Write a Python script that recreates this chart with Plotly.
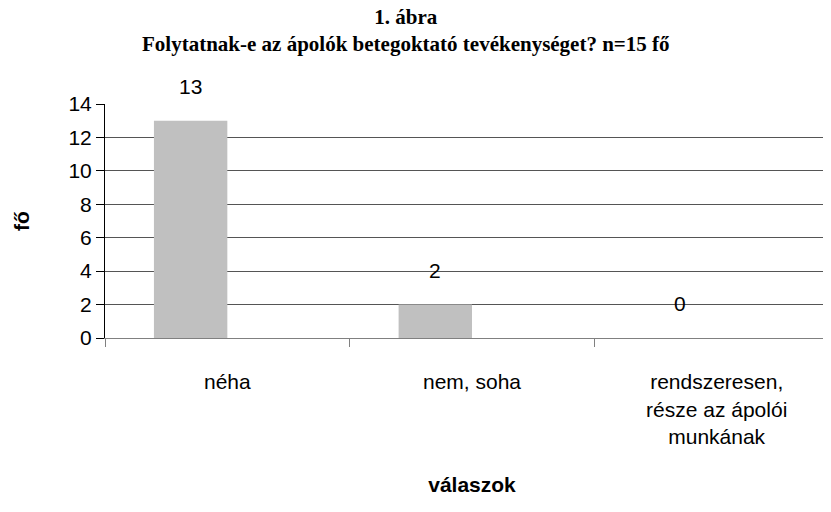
import plotly.graph_objects as go

# adatok
kategoriak = ["néha", "nem, soha", "rendszeresen,<br>része az ápolói<br>munkának"]
ertekek = [13, 2, 0]
y_tickek = [0, 2, 4, 6, 8, 10, 12, 14]

fig = go.Figure()

fig.add_trace(go.Bar(
    x=kategoriak,
    y=ertekek,
    width=0.3,
    offset=-0.3,
    marker=dict(color="#c0c0c0", line=dict(width=0)),
))

# értékcímkék az oszlopok fölött
for k, v in zip(kategoriak, ertekek):
    fig.add_annotation(
        x=k, y=v, text=str(v), showarrow=False,
        xanchor="center", yanchor="bottom", xshift=-37, yshift=21,
        font=dict(family="Liberation Sans, Arial", size=21, color="black"),
    )

# cím
fig.add_annotation(
    text="<b>1. ábra<br>Folytatnak-e az ápolók betegoktató tevékenységet? n=15 fő</b>",
    xref="paper", yref="paper", x=0.41, y=1.312,
    xanchor="center", yanchor="middle", showarrow=False,
    font=dict(family="Liberation Serif, Times New Roman", size=21, color="black"),
)

fig.update_layout(
    width=831, height=512,
    margin=dict(l=97, r=0, t=96, b=182, autoexpand=False),
    paper_bgcolor="white",
    plot_bgcolor="white",
    showlegend=False,
    font=dict(family="Liberation Sans, Arial", size=21, color="black"),
    xaxis=dict(
        range=[-0.5, 2.5],
        automargin=False,
        showline=True, linecolor="#808080", linewidth=1,
        ticks="outside", tickson="boundaries", ticklen=8, tickcolor="#808080",
        ticklabelstandoff=25,
        showgrid=False,
        tickfont=dict(size=21),
        title=dict(text="<b>válaszok</b>", font=dict(size=21), standoff=30),
    ),
    yaxis=dict(
        range=[0, 14],
        automargin=False,
        tickvals=y_tickek,
        showline=True, linecolor="black", linewidth=1,
        ticks="outside", ticklen=8, tickcolor="black",
        showgrid=True, gridcolor="#555555", gridwidth=1,
        tickfont=dict(size=21),
        title=dict(text="<b>fő</b>", font=dict(size=21), standoff=33),
    ),
)

fig.write_html("out.html")
